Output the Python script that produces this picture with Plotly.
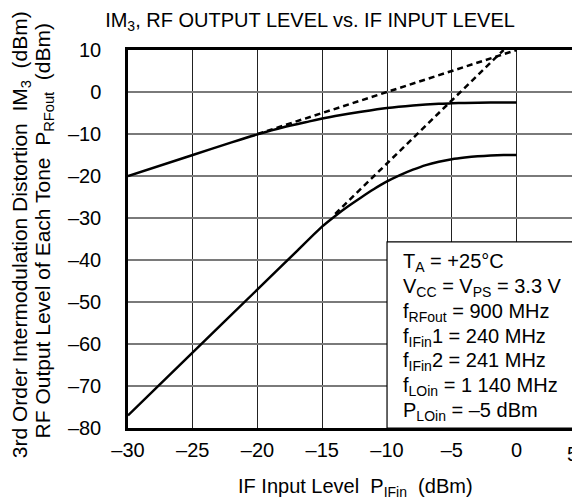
import plotly.graph_objects as go

# IF input level (dBm) vs RF output level of each tone (dBm)
pout_x = [-30, -25, -22, -20, -18, -16, -15, -14, -12, -10, -8, -6, -5, -4, -2, 0]
pout_y = [-20, -15, -12, -10.1, -8.4, -7.0, -6.3, -5.7, -4.7, -3.8, -3.2, -2.8, -2.7, -2.6, -2.5, -2.5]

# IF input level (dBm) vs 3rd order intermodulation distortion (dBm)
im3_x = [-30, -25, -20, -17, -15, -14, -13, -12, -11, -10, -9, -8, -7, -6, -5, -4, -3, -2, -1, 0]
im3_y = [-77, -62, -47, -38, -32, -29.5, -27.2, -25.1, -23.1, -21.3, -19.8, -18.5,
         -17.4, -16.6, -16.0, -15.6, -15.3, -15.1, -15.0, -15.0]

# extrapolated (dashed) lines
pout_ext_x = [-20, 0]
pout_ext_y = [-10, 10]
im3_ext_x = [-14, -1]
im3_ext_y = [-29, 10]

x_ticks = [-30, -25, -20, -15, -10, -5, 0]
x_ticktext = ["–30", "–25", "–20", "–15", "–10", "–5", "0"]
y_ticks = [10, 0, -10, -20, -30, -40, -50, -60, -70, -80]
y_ticktext = ["10", "0", "–10", "–20", "–30", "–40", "–50", "–60", "–70", "–80"]

conditions = [
    "T<sub>A</sub> = +25°C",
    "V<sub>CC</sub> = V<sub>PS</sub> = 3.3 V",
    "f<sub>RFout</sub> = 900 MHz",
    "f<sub>IFin</sub>1 = 240 MHz",
    "f<sub>IFin</sub>2 = 241 MHz",
    "f<sub>LOin</sub> = 1 140 MHz",
    "P<sub>LOin</sub> = –5 dBm",
]

FONT = "Liberation Sans, Arial, sans-serif"
FS = 20
SP2 = "\u00a0\u00a0"
X_RANGE = [-30, 4.9]

# the page body adds an 8 px margin, so the figure is 8 px smaller each way
W, H = 572, 491
ML, MT, MB = 120, 42, 71
PW = W - ML

fig = go.Figure()

dash_style = dict(color="black", width=2.5, dash="6px,4px")
fig.add_trace(go.Scatter(x=pout_ext_x, y=pout_ext_y, mode="lines", line=dash_style,
                         showlegend=False, hoverinfo="skip"))
fig.add_trace(go.Scatter(x=im3_ext_x, y=im3_ext_y, mode="lines", line=dash_style,
                         showlegend=False, hoverinfo="skip"))
fig.add_trace(go.Scatter(x=pout_x, y=pout_y, mode="lines",
                         line=dict(color="black", width=2.5, shape="spline", smoothing=0.6),
                         showlegend=False))
fig.add_trace(go.Scatter(x=im3_x, y=im3_y, mode="lines",
                         line=dict(color="black", width=2.5, shape="spline", smoothing=0.6),
                         showlegend=False))

# condition box
fig.add_shape(type="rect", xref="x", yref="y", x0=-10, x1=6, y0=-80, y1=-35.7,
              fillcolor="white", line=dict(color="black", width=1.2), layer="between")
for i, line in enumerate(conditions):
    fig.add_annotation(xref="x", yref="y", x=-10, y=-35.7, xanchor="left", yanchor="middle",
                       xshift=14, yshift=-21 - 24.7 * i, showarrow=False, align="left",
                       text=line, font=dict(family=FONT, size=FS, color="black"))

# "5" tick label sits at the cut right edge
fig.add_annotation(xref="paper", yref="paper", x=(4.3 - X_RANGE[0]) / (X_RANGE[1] - X_RANGE[0]),
                   y=0, xanchor="center", yanchor="middle", yshift=-26,
                   showarrow=False, text="5", font=dict(family=FONT, size=FS, color="black"))

# x-axis title
fig.add_annotation(xref="paper", yref="paper", x=(355 - 128) / PW, y=0,
                   xanchor="center", yanchor="middle", yshift=-59, showarrow=False,
                   text="IF Input Level" + SP2 + "P<sub>IFin</sub>" + SP2 + "(dBm)",
                   font=dict(family=FONT, size=FS, color="black"))

# y-axis titles (two lines)
fig.add_annotation(xref="paper", yref="paper", x=-107 / PW, y=0.51, textangle=-90,
                   xanchor="center", yanchor="middle", showarrow=False,
                   text="3rd Order Intermodulation Distortion" + SP2 + "IM<sub>3</sub>" + SP2 + "(dBm)",
                   font=dict(family=FONT, size=21, color="black"))
fig.add_annotation(xref="paper", yref="paper", x=-84 / PW, y=0.52, textangle=-90,
                   xanchor="center", yanchor="middle", showarrow=False,
                   text="RF Output Level of Each Tone" + SP2 + "P<sub>RFout</sub>" + SP2 + "(dBm)",
                   font=dict(family=FONT, size=21, color="black"))

fig.update_layout(
    width=W, height=H,
    margin=dict(l=ML, r=0, t=MT, b=MB),
    paper_bgcolor="white", plot_bgcolor="white",
    font=dict(family=FONT, size=FS, color="black"),
    title=dict(text="IM<sub>3</sub>, RF OUTPUT LEVEL vs. IF INPUT LEVEL",
               x=302 / W, xanchor="center", y=1 - 12 / H, yanchor="middle",
               font=dict(family=FONT, size=FS, color="black")),
    xaxis=dict(range=X_RANGE, tickvals=x_ticks, ticktext=x_ticktext,
               showgrid=True, gridcolor="#222222", gridwidth=1,
               showline=True, linecolor="black", linewidth=2.5, mirror=True,
               ticks="", ticklabelstandoff=2, zeroline=False),
    yaxis=dict(range=[-80, 10], tickvals=y_ticks, ticktext=y_ticktext,
               showgrid=True, gridcolor="#7a7a7a", gridwidth=1.5,
               showline=True, linecolor="black", linewidth=2.5, mirror=False,
               ticks="", ticklabelstandoff=20, zeroline=False),
)

fig.write_html("out.html")
